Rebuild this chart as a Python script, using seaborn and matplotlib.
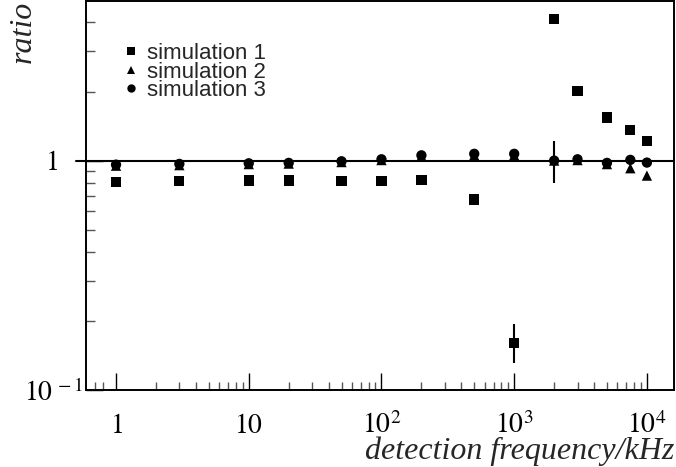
import pandas as pd
import numpy as np
import matplotlib
matplotlib.use("Agg")
import matplotlib.pyplot as plt
import matplotlib.transforms as mtransforms
import seaborn as sns
from matplotlib.ticker import FixedLocator, NullFormatter

# detection frequency in kHz
freq = [1, 3, 10, 20, 50, 100, 200, 500, 1000, 2000, 3000, 5000, 7500, 10000]

# ratio values
sim1 = [0.805, 0.816, 0.818, 0.818, 0.816, 0.816, 0.82, 0.677, 0.16, 4.14, 2.01, 1.54, 1.36, 1.22]
sim2 = [0.95, 0.955, 0.965, 0.97, 0.985, 1.005, 1.045, 1.055, 1.055, 1.0, 1.005, 0.965, 0.926, 0.86]
sim3 = [0.96, 0.967, 0.973, 0.977, 0.993, 1.013, 1.054, 1.07, 1.07, 1.0, 1.013, 0.977, 1.007, 0.98]

# the two points with visible error bars
err_x = [1000, 2000]
err_lo = [0.131, 0.797]
err_hi = [0.193, 1.22]

labels = ["simulation 1", "simulation 2", "simulation 3"]

df = pd.DataFrame({
    "freq": freq * 3,
    "ratio": sim1 + sim2 + sim3,
    "sim": [labels[0]] * len(freq) + [labels[1]] * len(freq) + [labels[2]] * len(freq),
})

sns.set_style("white")
plt.rcParams["font.family"] = ["Liberation Serif", "DejaVu Serif"]
plt.rcParams["mathtext.fontset"] = "stix"

fig = plt.figure(figsize=(6.76, 4.67), dpi=100)
ax = fig.add_axes([86 / 676, 1 - 390 / 467, 588 / 676, 389 / 467])

ax.vlines(err_x, err_lo, err_hi, color="black", lw=1.5, zorder=2)
ax.axhline(1, xmin=-10 / 588, xmax=1, color="black", lw=1.5, clip_on=False, zorder=1)

sns.scatterplot(data=df, x="freq", y="ratio", style="sim",
                markers={labels[0]: "s", labels[1]: "^", labels[2]: "o"},
                color="black", s=55, edgecolor="black", linewidth=0, ax=ax, zorder=3)

ax.set_xscale("log")
ax.set_yscale("log")
ax.set_xlim(0.594, 1.6e4)
ax.set_ylim(0.1, 4.96)

xmaj = [1, 10, 100, 1000, 10000]
xmin_t = [0.7, 0.8] + [m * 10 ** e for e in range(0, 4) for m in range(2, 10)]
ax.xaxis.set_major_locator(FixedLocator(xmaj))
ax.xaxis.set_minor_locator(FixedLocator(xmin_t))
ax.set_xticklabels([r"$1$", r"$10$", r"$10^{2}$", r"$10^{3}$", r"$10^{4}$"])
ax.xaxis.set_minor_formatter(NullFormatter())

ymaj = [0.1, 1]
ymin_t = [m * 0.1 for m in range(2, 10)] + [2, 3, 4]
ax.yaxis.set_major_locator(FixedLocator(ymaj))
ax.yaxis.set_minor_locator(FixedLocator(ymin_t))
ax.set_yticklabels([r"$10^{\,-1}$", r"$1$"])
ax.yaxis.set_minor_formatter(NullFormatter())

ax.tick_params(axis="x", which="major", direction="in", length=12, width=1, pad=31,
               labelsize=20, bottom=True, top=False, colors="black")
ax.tick_params(axis="x", which="minor", direction="in", length=6, width=1,
               bottom=True, top=False, color="#555555")
ax.tick_params(axis="y", which="major", direction="in", length=12, width=1, pad=20,
               labelsize=20, left=True, right=False, colors="black")
ax.tick_params(axis="y", which="minor", direction="in", length=6.5, width=1,
               left=True, right=False, color="#555555")
for lab in ax.get_xticklabels():
    lab.set_verticalalignment("baseline")

# the 10^-1 label sits closer to the axis in the original
lab01 = ax.yaxis.get_major_ticks()[0].label1
lab01.set_transform(lab01.get_transform()
                    + mtransforms.ScaledTranslation(25 / 100, 0, fig.dpi_scale_trans))

for sp in ax.spines.values():
    sp.set_visible(True)
    sp.set_color("black")
    sp.set_linewidth(1.4)

ax.set_xlabel("detection frequency/kHz", fontsize=23, style="italic", loc="right")
ax.xaxis.set_label_coords(1.0, -0.12)
ax.set_ylabel("ratio", fontsize=23, style="italic", loc="top")
ax.yaxis.set_label_coords(-0.082, 1.0)

handles, labs = ax.get_legend_handles_labels()
for h in handles:
    h.set_markersize(6)
ax.legend(handles, labs, loc="upper left", bbox_to_anchor=(0.0465, 0.92),
          frameon=False, borderpad=0, handlelength=0.6, handletextpad=0.4,
          labelspacing=-0.12, prop={"family": "Liberation Sans", "size": 16})

fig.savefig("out.png", dpi=100)
